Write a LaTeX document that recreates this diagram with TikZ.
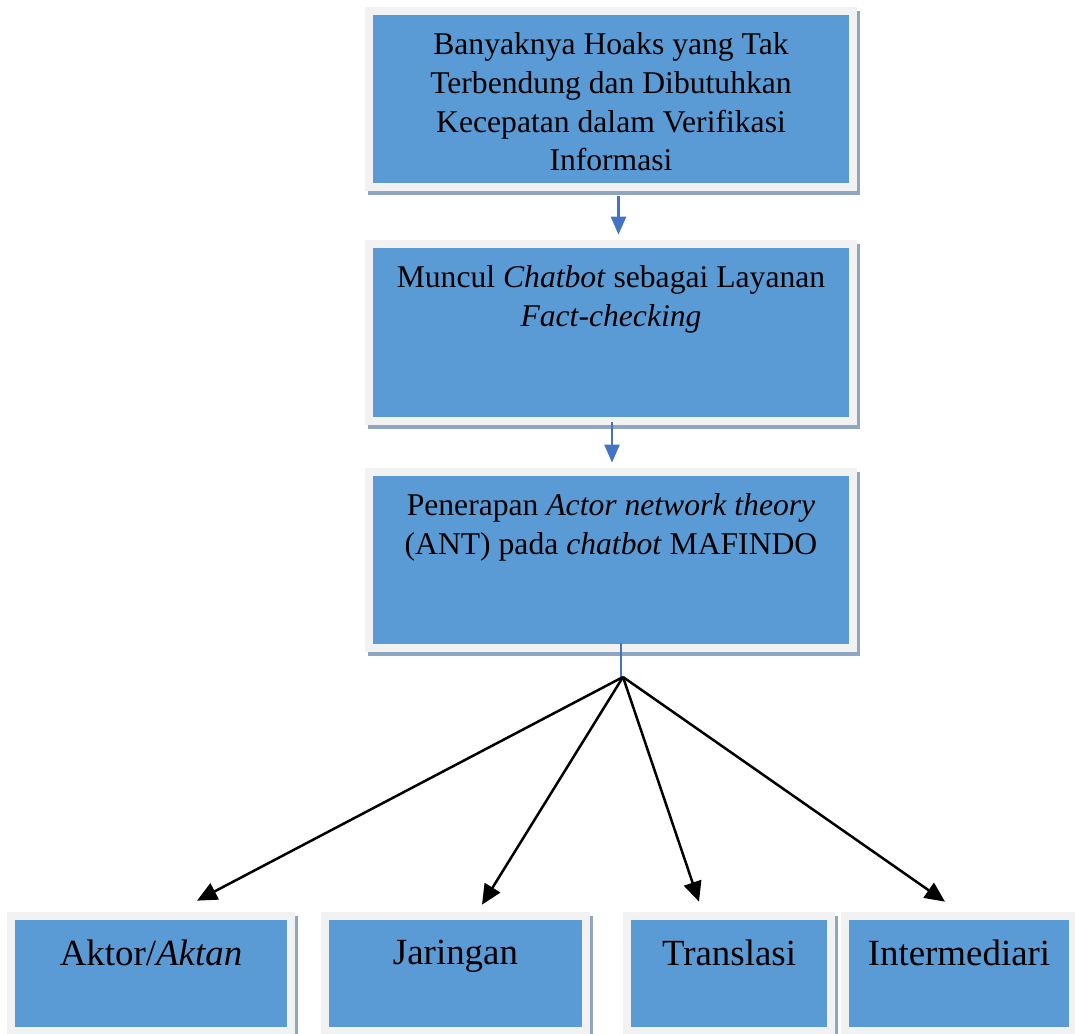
\documentclass[tikz,border=0pt]{standalone}
\usepackage{fontspec}
\setmainfont{Liberation Serif}
\usepackage{xcolor}
\usepackage{tikz}
\usetikzlibrary{calc,arrows.meta,positioning,shadows}
\definecolor{boxBlue}{RGB}{91,155,213}
\definecolor{frameGray}{RGB}{242,242,242}
\definecolor{shadowGray}{RGB}{143,166,192}
\definecolor{flowBlue}{RGB}{68,114,196}

\begin{document}
\begin{tikzpicture}[
    hoaxbox/.style={rectangle, fill=frameGray, inner sep=0pt,
        drop shadow={shadow xshift=0.06cm, shadow yshift=-0.08cm, fill=shadowGray, opacity=1},
        path picture={\fill[boxBlue] ([shift={(0.16,0.16)}]path picture bounding box.south west)
            rectangle ([shift={(-0.16,-0.16)}]path picture bounding box.north east);}},
    topbox/.style={hoaxbox, minimum width=9.84cm, minimum height=3.68cm},
    antbox/.style={hoaxbox, minimum height=2.46cm},
    toptext/.style={inner sep=0pt, align=center, font=\fontsize{18}{22}\selectfont},
    anttext/.style={inner sep=0pt, align=center, font=\fontsize{21}{25}\selectfont},
    flowarrow/.style={flowBlue, line width=0.05cm, -{Triangle[length=0.36cm,width=0.3cm]}},
    hubarrow/.style={black, line width=0.05cm, -{Triangle[length=0.4cm,width=0.36cm]}}
]
    \useasboundingbox (0,0) rectangle (21.5,-20.66);

    % three stacked boxes
    \node[topbox] (b1) at (12.22,-1.98) {};
    \node[topbox, minimum height=3.7cm] (b2) at (12.22,-6.65) {};
    \node[topbox] (b3) at (12.22,-11.2) {};

    \node[toptext, below=0.52cm of b1.north] (t1)
        {Banyaknya Hoaks yang Tak\\Terbendung dan Dibutuhkan\\Kecepatan dalam Verifikasi\\Informasi};
    \node[toptext, below=0.52cm of b2.north] (t2)
        {Muncul \textit{Chatbot} sebagai Layanan\\\textit{Fact-checking}};
    \node[toptext, below=0.52cm of b3.north] (t3)
        {Penerapan \textit{Actor network theory}\\(ANT) pada \textit{chatbot} MAFINDO};

    % bottom row: ANT concepts
    \node[antbox, minimum width=5.76cm] (aktor) at (3.02,-19.47) {};
    \node[antbox, minimum width=5.38cm] (jaringan) at (9.11,-19.47) {};
    \node[antbox, minimum width=4.24cm] (translasi) at (14.58,-19.47) {};
    \node[antbox, minimum width=4.72cm] (intermediari) at (19.18,-19.47) {};

    \node[anttext, below=0.56cm of aktor.north] (ta) {Aktor/\textit{Aktan}};
    \node[anttext, below=0.56cm of jaringan.north] (tj) {Jaringan};
    \node[anttext, below=0.56cm of translasi.north] (tt) {Translasi};
    \node[anttext, below=0.56cm of intermediari.north] (ti) {Intermediari};

    % blue flow arrows
    \draw[flowarrow] ([xshift=0.15cm,yshift=-0.1cm]b1.south) -- ([xshift=0.15cm,yshift=0.1cm]b2.north);
    \draw[flowarrow] ([xshift=0.02cm,yshift=0.06cm]b2.south) -- ([xshift=0.02cm,yshift=0.1cm]b3.north);

    % split point below box 3
    \coordinate (hub) at (12.46,-13.54);
    \draw[flowBlue, line width=0.03cm] ($(hub |- b3.south)+(-0.04,0.18)$) -- ($(hub)+(-0.04,0)$);

    \draw[hubarrow] (hub) -- ([xshift=0.92cm,yshift=0.22cm]aktor.north);
    \draw[hubarrow] (hub) -- ([xshift=0.53cm,yshift=0.14cm]jaringan.north);
    \draw[hubarrow] (hub) -- ([xshift=-0.6cm,yshift=0.2cm]translasi.north);
    \draw[hubarrow] (hub) -- ([xshift=-0.28cm,yshift=0.2cm]intermediari.north);
\end{tikzpicture}
\end{document}
